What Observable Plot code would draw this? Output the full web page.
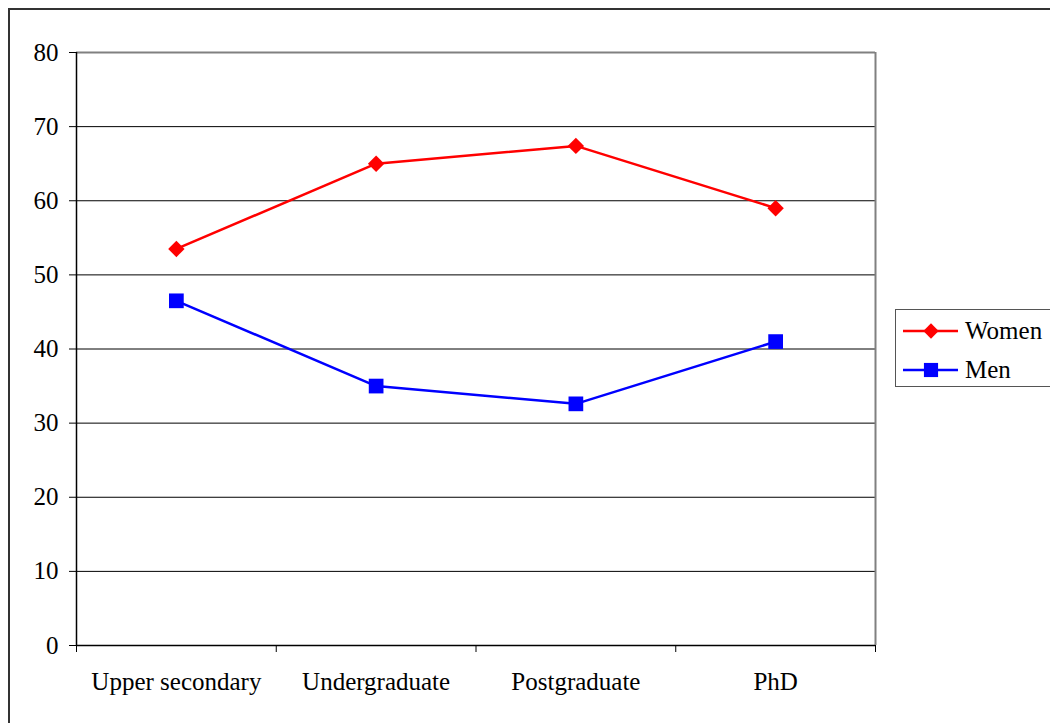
<!DOCTYPE html>
<html>
<head>
<meta charset="utf-8">
<script src="https://cdn.jsdelivr.net/npm/d3@7"></script>
<script src="https://cdn.jsdelivr.net/npm/@observablehq/plot@0.6"></script>
<style>
  html, body { margin: 0; padding: 0; background: #fff; }
  #wrap { position: relative; width: 1050px; height: 723px; overflow: hidden; }
  #border { position: absolute; left: 8px; top: 8px; width: 1060px; height: 740px; border: 2px solid #333; box-sizing: border-box; }
  #chart { position: absolute; left: 0; top: 0; }
  #chart svg text { font-family: 'Liberation Serif', 'Times New Roman', serif; }
  #legend { position: absolute; left: 895px; top: 309px; width: 160px; height: 78px; border: 1.5px solid #555; box-sizing: border-box; background: #fff; font-family: 'Liberation Serif', 'Times New Roman', serif; font-size: 25px; }
  #legend .item { position: absolute; left: 6px; height: 30px; display: flex; align-items: center; }
  #legend svg { margin-right: 6px; }
</style>
</head>
<body>
<div id="wrap">
  <div id="border"></div>
  <div id="chart"></div>
  <div id="legend"></div>
</div>
<script>
// Share (%) of women and men by education level
const categories = ["Upper secondary", "Undergraduate", "Postgraduate", "PhD"];
const women = [53.5, 65, 67.4, 59];
const men = [46.5, 35, 32.6, 41];
const seriesNames = ["Women", "Men"];
const seriesColors = ["#FF0000", "#0000FF"];
const seriesSymbols = ["diamond2", "square"];
const markerRadius = [7.4, 8.3];
const yTicks = [0, 10, 20, 30, 40, 50, 60, 70, 80];

const seriesRows = [women, men].map((vals, s) =>
  vals.map((v, i) => ({series: seriesNames[s], cat: categories[i], value: v}))
);
// category slots on a continuous axis: labels sit mid-slot, ticks on slot edges
const slot = d => categories.indexOf(d.cat) + 0.5;
const edges = d3.range(categories.length + 1);
const mids = categories.map((c, i) => i + 0.5);

const font = "'Liberation Serif', 'Times New Roman', serif";

const seriesMarks = seriesRows.flatMap((rows, s) => [
  Plot.line(rows, {x: slot, y: "value", stroke: seriesColors[s], strokeWidth: 2.5}),
  Plot.dot(rows, {x: slot, y: "value", symbol: seriesSymbols[s], r: markerRadius[s], fill: seriesColors[s], stroke: "none"})
]);

const chart = Plot.plot({
  width: 1050,
  height: 723,
  marginLeft: 76,
  marginRight: 175,
  marginTop: 52,
  marginBottom: 78,
  style: {fontFamily: font, fontSize: "25px", background: "transparent", color: "#000"},
  x: {type: "linear", domain: [0, categories.length]},
  y: {domain: [0, 80]},
  marks: [
    Plot.ruleY(yTicks.filter(t => t > 0 && t < 80), {stroke: "#000", strokeWidth: 1}),
    Plot.ruleY([80], {stroke: "#808080", strokeWidth: 2}),
    Plot.ruleX([categories.length], {stroke: "#808080", strokeWidth: 2}),
    Plot.ruleX([0], {stroke: "#000", strokeWidth: 1.5}),
    Plot.ruleY([0], {stroke: "#000", strokeWidth: 1.5}),
    Plot.axisY({ticks: yTicks, tickSize: 7, tickPadding: 11, label: null, stroke: "#000", fill: "#000", fontSize: 25, fontFamily: font}),
    Plot.axisX({ticks: edges, tickSize: 7, tickFormat: () => "", label: null, stroke: "#000"}),
    Plot.axisX({ticks: mids, tickSize: 0, tickPadding: 27, tickFormat: t => categories[Math.round(t - 0.5)], label: null, fill: "#000", fontSize: 25, fontFamily: font}),
    ...seriesMarks
  ]
});
document.getElementById("chart").appendChild(chart);

// legend: line + marker sample, then series name
const legend = document.getElementById("legend");
seriesNames.forEach((name, i) => {
  const item = document.createElement("div");
  item.className = "item";
  item.style.top = (6 + i * 39) + "px";
  const svg = d3.create("svg").attr("width", 57).attr("height", 24);
  svg.append("line").attr("x1", 1).attr("x2", 56).attr("y1", 12).attr("y2", 12)
    .attr("stroke", seriesColors[i]).attr("stroke-width", 2.5);
  const sym = seriesSymbols[i] === "square" ? d3.symbolSquare : d3.symbolDiamond2;
  const size = seriesSymbols[i] === "square" ? 200 : 150;
  svg.append("path").attr("d", d3.symbol(sym, size)()).attr("transform", "translate(29,12)")
    .attr("fill", seriesColors[i]);
  item.appendChild(svg.node());
  const label = document.createElement("span");
  label.textContent = name;
  item.appendChild(label);
  legend.appendChild(item);
});
</script>
</body>
</html>
